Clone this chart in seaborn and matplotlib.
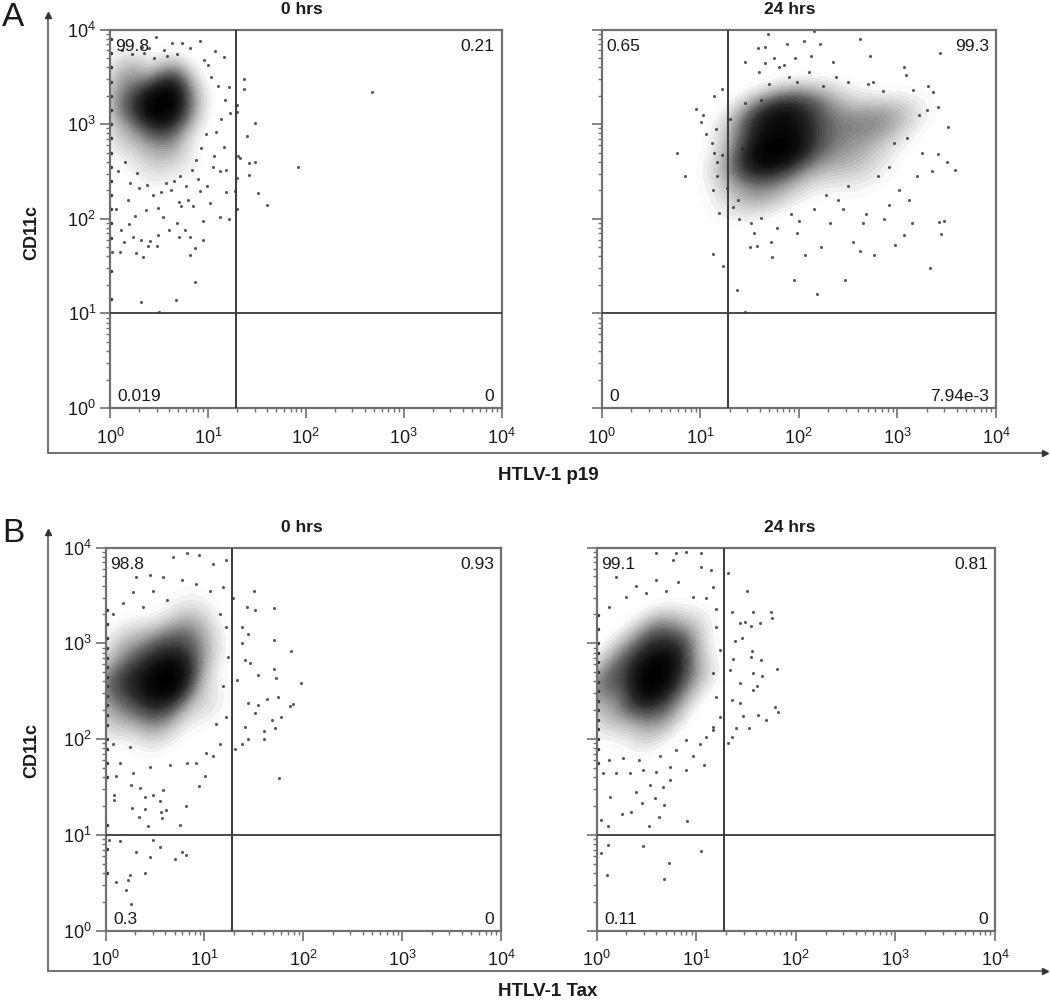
import matplotlib
matplotlib.use('Agg')
import matplotlib.pyplot as plt
from matplotlib.colors import LinearSegmentedColormap
from matplotlib.lines import Line2D
from matplotlib.ticker import LogLocator, NullFormatter
import numpy as np
import seaborn as sns

FIG_W, FIG_H = 1050, 1002

# all event values are log10 of the fluorescence
# core_* = where the cloud is solid black, w = how dark; dots_* = single events
a0_core_x = [0.58, 0.45, 0.65, 0.30, 0.10, 0.10, 0.55, 0.35, 0.75, 0.60, 0.35, 0.10, 0.25, 0.80, 0.85, 0.50]
a0_core_y = [3.25, 3.20, 3.45, 3.20, 3.20, 3.50, 3.00, 2.90, 3.10, 2.75, 2.60, 2.85, 3.55, 2.60, 3.30, 2.45]
a0_core_w = [10, 8, 7, 6, 4, 2, 5, 3, 4, 3, 1.5, 2, 3, 1, 2, 1]
a0_dots_x = [2.68, 1.92, 1.37, 1.37, 1.30, 1.30, 1.48, 1.40, 1.31, 1.33, 1.42, 1.48, 1.42, 1.51, 1.60, 1.30, 1.30, 1.28,
             0.87, 0.32, 0.67, 0.50, 0.87, 0.82, 0.34, 0.27, 0.10, 0.02, 0.95, 0.82, 0.71, 0.77, 0.60, 0.49, 0.39, 0.48,
             0.41, 0.32, 0.24, 0.14, 0.11, 0.19, 0.26, 0.37, 0.49, 0.54, 0.68, 0.95, 1.12, 1.22, 0.73, 0.85, 1.02, 0.92,
             1.19, 1.12, 1.19, 1.06, 1.16, 0.47, 0.63, 0.74, 0.92, 1.07, 1.16, 1.22, 1.17, 1.23, 0.40, 0.55, 0.68, 0.82,
             0.96, 1.03, 1.10, 1.13, 0.98, 1.05, 0.90, 0.78, 0.62, 0.44, 0.30, 0.18, 0.08, 0.12, 0.22, 0.33, 0.45, 0.58,
             0.72, 0.88, 1.00, 0.93, 0.80, 0.65, 0.38, 0.20, 0.06, 0.15, 0.28, 0.52, 0.70, 0.84, 0.99, 1.08, 0.35, 0.57]
a0_dots_y = [3.34, 2.55, 3.48, 3.37, 3.20, 3.13, 3.01, 2.87, 2.66, 2.64, 2.59, 2.60, 2.46, 2.27, 2.15, 2.43, 2.10, 2.29,
             1.33, 1.12, 1.14, 1.01, 1.69, 1.62, 1.60, 1.64, 1.65, 1.65, 1.78, 1.81, 1.81, 1.88, 1.88, 1.83, 1.71, 1.71,
             1.77, 1.78, 1.81, 1.75, 1.88, 1.94, 2.03, 2.09, 2.11, 2.02, 1.96, 1.98, 2.02, 2.00, 2.13, 2.13, 2.17, 2.29,
             2.28, 2.50, 2.52, 2.66, 2.76, 3.92, 3.86, 3.86, 3.88, 3.77, 3.71, 3.39, 3.26, 3.12, 3.80, 3.78, 3.74, 3.80,
             3.68, 3.50, 3.40, 3.05, 2.90, 2.55, 2.42, 2.35, 2.30, 2.25, 2.32, 2.20, 2.50, 3.78, 3.74, 3.82, 3.70, 3.72,
             2.45, 2.62, 3.62, 2.75, 2.20, 2.40, 2.36, 2.38, 2.10, 2.60, 2.48, 2.28, 2.18, 2.52, 2.35, 2.92, 3.75, 2.38]

a1_core_x = [1.77, 1.77, 1.67, 2.45, 2.79, 2.96, 1.60, 2.28, 2.62, 1.47, 1.47, 2.01, 1.94, 2.20, 1.60, 2.60, 1.85]
a1_core_y = [3.12, 2.73, 2.62, 3.01, 3.01, 3.08, 2.24, 2.66, 2.66, 2.55, 2.20, 3.12, 2.83, 3.20, 2.95, 2.40, 2.40]
a1_core_w = [12, 10, 9, 4, 4, 2.5, 3, 3.5, 3, 3, 1.5, 4, 7, 2.5, 5, 1.5, 2.5]
a1_dots_x = [0.77, 0.85, 0.96, 1.01, 1.03, 1.06, 1.12, 1.14, 1.17, 1.17, 1.13, 1.22, 1.16, 1.14, 1.22, 1.19, 1.13,
             1.23, 1.37, 1.45, 1.62, 1.58, 1.95, 2.18, 2.47, 2.62, 2.76, 2.98, 3.07, 3.15, 3.33, 3.44, 3.42, 3.47,
             3.50, 3.41, 3.35, 3.58, 3.41, 3.36, 3.16, 3.31, 3.09, 3.07, 3.43, 3.51, 2.97, 2.72, 2.62, 2.22, 2.15,
             1.88, 1.66, 1.69, 1.59, 1.66, 1.46, 1.27, 1.33, 1.39, 1.51, 1.73, 2.06, 2.23, 2.55, 2.65, 2.86, 3.12,
             1.60, 1.70, 1.75, 1.85, 1.90, 1.98, 2.10, 2.12, 2.25, 2.38, 2.50, 2.70, 2.85, 1.45, 1.55, 1.78, 1.98,
             2.32, 2.45, 2.68, 2.92, 3.02, 3.20, 3.25, 1.30, 1.38, 1.52, 1.72, 2.00, 2.28, 2.50, 2.80, 1.62, 1.80,
             2.15, 2.40, 2.92, 3.10, 3.22, 1.92, 2.05, 2.35, 2.75, 3.30, 1.42, 1.96]
a1_dots_y = [2.70, 2.45, 3.16, 3.02, 3.10, 2.90, 2.80, 2.70, 2.60, 2.45, 2.30, 2.67, 2.95, 3.30, 3.37, 2.06, 1.63,
             1.50, 1.25, 1.01, 2.01, 1.71, 1.35, 1.20, 1.35, 1.66, 1.62, 1.72, 1.83, 1.96, 1.48, 1.84, 1.97, 1.98,
             2.60, 2.68, 2.50, 2.52, 3.18, 3.34, 3.36, 3.40, 3.52, 3.60, 3.75, 2.97, 2.80, 3.72, 3.90, 3.85, 3.98,
             3.85, 3.82, 3.95, 3.80, 3.65, 3.66, 2.33, 2.12, 2.00, 1.70, 1.60, 1.62, 1.70, 1.75, 1.95, 2.00, 2.20,
             3.55, 3.42, 3.70, 3.62, 3.50, 3.45, 3.55, 3.72, 3.40, 3.50, 3.45, 3.42, 3.35, 3.22, 1.85, 1.90, 1.85,
             1.95, 2.10, 2.05, 2.15, 2.30, 2.45, 2.70, 3.05, 2.20, 1.95, 1.75, 1.98, 2.25, 2.35, 2.45, 3.25, 3.60,
             2.10, 2.20, 2.55, 2.85, 3.10, 2.05, 3.88, 3.66, 3.45, 3.15, 2.75, 3.70]

b0_core_x = [0.65, 0.52, 0.28, 0.04, 0.82, 0.52, 0.95, 0.21, 0.55, 1.02, 0.82, 0.11, 0.70, 0.40]
b0_core_y = [2.69, 2.30, 2.65, 2.58, 3.10, 2.93, 2.89, 3.00, 2.09, 2.37, 3.42, 2.23, 2.55, 2.50]
b0_core_w = [11, 5, 6, 5, 5, 6, 3, 3, 2, 2, 1, 3, 8, 6]
b0_dots_x = [1.50, 1.70, 1.43, 1.51, 1.29, 1.70, 1.88, 1.38, 1.44, 1.38, 1.41, 1.46, 1.70, 1.54, 1.72, 1.98, 1.33, 1.63,
             1.74, 1.44, 1.54, 1.90, 1.87, 1.51, 1.68, 1.78, 1.41, 1.71, 1.60, 1.44, 1.60, 1.38, 1.31, 1.75,
             0.09, 0.09, 0.27, 0.34, 0.40, 0.43, 0.55, 0.56, 0.57, 0.61, 0.81, 0.75, 0.48, 0.40, 0.35, 0.58, 0.95, 1.01, 0.26, 0.11,
             0.04, 0.15, 0.48, 0.31, 0.55, 0.45, 0.70, 0.77, 0.81, 0.25, 0.40, 0.23, 0.11, 0.21, 0.26,
             0.15, 0.28, 0.45, 0.65, 0.82, 1.02, 1.09, 1.16, 0.08, 0.25, 0.92,
             0.31, 0.45, 0.58, 0.68, 0.82, 0.95, 1.09, 1.22, 0.77, 0.92, 1.06, 1.19, 0.48, 0.28, 0.18, 0.08, 0.38, 0.62,
             1.16, 1.22, 1.24, 1.19, 1.22, 1.12]
b0_dots_y = [3.55, 3.37, 3.38, 3.35, 3.47, 3.03, 2.92, 3.17, 3.10, 3.00, 2.82, 2.79, 2.73, 2.67, 2.64, 2.59, 2.62, 2.42,
             2.44, 2.38, 2.35, 2.37, 2.34, 2.27, 2.20, 2.23, 2.13, 2.11, 2.08, 2.00, 2.00, 1.95, 1.90, 1.59,
             1.42, 1.36, 1.28, 1.19, 1.27, 1.09, 1.35, 1.24, 1.17, 1.26, 1.30, 1.10, 1.42, 1.39, 1.49, 1.47, 1.51, 1.61, 1.52, 1.61,
             0.95, 0.93, 0.95, 0.82, 0.87, 0.77, 0.75, 0.82, 0.79, 0.58, 0.60, 0.53, 0.51, 0.42, 0.28,
             1.75, 1.64, 1.71, 1.73, 1.75, 1.85, 1.82, 1.95, 1.95, 1.92, 1.75,
             3.69, 3.71, 3.69, 3.90, 3.94, 3.92, 3.83, 3.87, 3.66, 3.62, 3.55, 3.59, 3.55, 3.54, 3.42, 3.31, 3.38, 3.45,
             3.31, 3.17, 2.86, 2.55, 2.23, 2.16]

b1_core_x = [0.60, 0.77, 0.44, 0.60, 0.20, 0.02, 0.90, 0.50, 0.97, 0.13, 1.10, 0.50, 0.70, 0.30]
b1_core_y = [2.58, 2.89, 2.41, 3.10, 2.65, 2.55, 2.65, 2.06, 3.17, 2.23, 2.65, 2.75, 2.30, 2.90]
b1_core_w = [12, 10, 7, 7, 4, 5, 5, 2.5, 2, 3, 1, 10, 5, 4]
b1_dots_x = [1.51, 1.57, 1.75, 1.76, 1.36, 1.32, 1.49, 1.55, 1.64, 1.44, 1.46, 1.39, 1.37, 1.56, 1.55, 1.65, 1.81, 1.34,
             1.57, 1.66, 1.44, 1.61, 1.57, 1.36, 1.44, 1.79, 1.82, 1.47, 1.62, 1.70, 1.40, 1.53, 1.36, 1.32,
             0.05, 0.12, 0.53, 0.63, 0.91, 0.26, 0.35, 0.46, 0.68, 0.14, 0.40, 0.54, 0.59, 0.67, 0.74, 1.08,
             0.12, 0.47, 1.05, 0.05, 0.73, 0.11, 0.68,
             0.07, 0.20, 0.34, 0.47, 0.60, 0.74, 0.90, 0.97, 0.13, 0.27, 0.43, 0.64, 0.80, 1.10, 1.17, 1.04, 0.90,
             0.60, 0.80, 0.90, 1.05, 0.77, 1.05, 1.15, 0.60, 0.40, 0.20, 0.82, 1.17, 0.13, 0.30, 0.50, 0.70, 0.97, 1.10, 1.20,
             1.20, 1.24, 1.17, 1.20, 1.24, 1.17]
b1_dots_y = [3.55, 3.33, 3.33, 3.26, 3.33, 3.73, 3.22, 3.18, 3.21, 3.21, 3.06, 3.02, 2.84, 2.92, 2.86, 2.82, 2.73, 2.72,
             2.69, 2.66, 2.58, 2.55, 2.51, 2.41, 2.38, 2.33, 2.28, 2.24, 2.25, 2.20, 2.11, 2.11, 2.02, 1.96,
             1.15, 1.09, 1.09, 1.19, 1.14, 1.22, 1.24, 1.33, 1.31, 1.39, 1.45, 1.52, 1.38, 1.50, 1.57, 1.73,
             0.89, 0.88, 0.83, 0.81, 0.71, 0.58, 0.54,
             1.64, 1.64, 1.64, 1.68, 1.66, 1.71, 1.68, 1.82, 1.78, 1.80, 1.78, 1.82, 1.89, 2.02, 2.13, 1.95, 1.99,
             3.94, 3.94, 3.95, 3.94, 3.87, 3.80, 3.76, 3.66, 3.60, 3.69, 3.64, 3.59, 3.38, 3.48, 3.52, 3.55, 3.48, 3.47, 3.36,
             3.17, 2.93, 2.69, 2.44, 2.23, 2.09]

# events piled up on the left edge of the plot
edge_y = [[1.15, 1.45, 1.8, 1.95, 2.1, 2.25, 2.4, 2.55, 2.7, 2.85, 3.0, 3.15, 3.3, 3.45, 3.6, 3.75, 3.9],
          [],
          [0.6, 0.85, 1.1, 1.6, 1.75, 1.9, 2.0, 2.15, 2.25, 2.35, 2.45, 2.55, 2.65, 2.75, 2.85, 2.95, 3.05, 3.2, 3.35],
          [1.75, 1.9, 2.0, 2.1, 2.2, 2.3, 2.4, 2.5, 2.6, 2.7, 2.8, 2.9, 3.0, 3.15, 3.3]]

# frame position in pixels: left, right, top, bottom
panel_boxes = [(110, 501.5, 29.5, 408), (601.5, 996, 29.5, 408), (105.5, 501, 547.5, 930.5), (596.5, 995, 547.5, 930.5)]
panel_titles = ['0 hrs', '24 hrs', '0 hrs', '24 hrs']
title_x = [302, 790, 302, 790]
title_y = [10, 10, 527, 527]
quad_labels = [('99.8', '0.21', '0.019', '0'), ('0.65', '99.3', '0', '7.94e-3'),
               ('98.8', '0.93', '0.3', '0'), ('99.1', '0.81', '0.11', '0')]
panel_data = [(a0_core_x, a0_core_y, a0_core_w, a0_dots_x, a0_dots_y),
              (a1_core_x, a1_core_y, a1_core_w, a1_dots_x, a1_dots_y),
              (b0_core_x, b0_core_y, b0_core_w, b0_dots_x, b0_dots_y),
              (b1_core_x, b1_core_y, b1_core_w, b1_dots_x, b1_dots_y)]

sns.set_theme(style='ticks')
plt.rcParams['font.family'] = ['Liberation Sans', 'DejaVu Sans']
plt.rcParams['mathtext.default'] = 'regular'

FRAME = '#707070'
GATE = '#3a3a3a'
INK = '#1a1a1a'
cloud_cmap = LinearSegmentedColormap.from_list('cloud', ['#ffffff', '#b4b4b4', '#646464', '#2c2c2c', '#0e0e0e', '#000000'])

fig = plt.figure(figsize=(FIG_W / 100, FIG_H / 100), dpi=100, facecolor='white')


def fig_text(x, y, s, **kw):
    fig.text(x / FIG_W, 1 - y / FIG_H, s, color=INK, va='center', ha=kw.pop('ha', 'center'), **kw)


for i, (box, data) in enumerate(zip(panel_boxes, panel_data)):
    left, right, top, bottom = box
    ax = fig.add_axes([left / FIG_W, 1 - bottom / FIG_H, (right - left) / FIG_W, (bottom - top) / FIG_H])
    core_x, core_y, core_w, dots_x, dots_y = data
    sns.kdeplot(x=10 ** np.array(core_x), y=10 ** np.array(core_y), weights=core_w, log_scale=True,
                fill=True, cmap=cloud_cmap, levels=40, thresh=0.03, bw_adjust=1.0, gridsize=150, ax=ax, zorder=1)
    sns.scatterplot(x=10 ** np.array(dots_x), y=10 ** np.array(dots_y), s=5, color='#222222',
                    linewidth=0, alpha=0.75, ax=ax, zorder=2)
    if edge_y[i]:
        sns.scatterplot(x=np.ones(len(edge_y[i])) * 1.03, y=10 ** np.array(edge_y[i]), s=6, color='#333333',
                        linewidth=0, ax=ax, zorder=2)

    ax.set_xlim(1, 1e4)
    ax.set_ylim(1, 1e4)
    ax.axhline(10, color=GATE, lw=1.3, zorder=3)
    ax.axvline(19.2, color=GATE, lw=1.4, zorder=3)

    for axis in (ax.xaxis, ax.yaxis):
        axis.set_major_locator(LogLocator(base=10, numticks=6))
        axis.set_minor_locator(LogLocator(base=10, subs=range(2, 10), numticks=6))
        axis.set_minor_formatter(NullFormatter())
    ax.tick_params(which='major', length=7, width=1.2, color=FRAME, labelsize=13, labelcolor=INK)
    ax.tick_params(which='minor', length=3.2, width=1, color=FRAME)
    ax.tick_params(axis='x', which='major', pad=7)
    ax.tick_params(axis='y', which='major', pad=3, labelleft=i % 2 == 0)
    for spine in ax.spines.values():
        spine.set_color(FRAME)
        spine.set_linewidth(1.6)

    tl, tr, bl, br = quad_labels[i]
    ax.text(0.012, 0.955, tl, transform=ax.transAxes, fontsize=12.5, color=INK, va='center', zorder=5)
    ax.text(0.982, 0.955, tr, transform=ax.transAxes, fontsize=12.5, color=INK, va='center', ha='right', zorder=5)
    ax.text(0.02, 0.03, bl, transform=ax.transAxes, fontsize=12.5, color=INK, va='center', zorder=5)
    ax.text(0.982, 0.03, br, transform=ax.transAxes, fontsize=12.5, color=INK, va='center', ha='right', zorder=5,
            bbox=dict(facecolor='white', edgecolor='none', pad=1.5))

    fig_text(title_x[i], title_y[i], panel_titles[i], fontsize=12.5, fontweight='bold')

# outer L shaped axes with arrow heads
for top_y, corner_y in [(13, 453), (530, 971)]:
    fig.add_artist(Line2D([48 / FIG_W, 48 / FIG_W], [1 - corner_y / FIG_H, 1 - (top_y + 4) / FIG_H], color=FRAME, lw=1.4))
    fig.add_artist(Line2D([48 / FIG_W, 1045 / FIG_W], [1 - corner_y / FIG_H, 1 - corner_y / FIG_H], color=FRAME, lw=1.4))
    fig.add_artist(Line2D([48 / FIG_W], [1 - (top_y + 2) / FIG_H], marker='^', ms=4, color='#333333', lw=0))
    fig.add_artist(Line2D([1045 / FIG_W], [1 - corner_y / FIG_H], marker='>', ms=4, color='#333333', lw=0))

fig_text(32, 232, 'CD11c', fontsize=13, fontweight='bold', rotation=90)
fig_text(32, 750, 'CD11c', fontsize=13, fontweight='bold', rotation=90)
fig_text(548, 476, 'HTLV-1 p19', fontsize=13.5, fontweight='bold')
fig_text(548, 992, 'HTLV-1 Tax', fontsize=13.5, fontweight='bold')
fig_text(2, 17, 'A', fontsize=24, ha='left')
fig_text(2, 533, 'B', fontsize=24, ha='left')

fig.savefig('out.png', dpi=100)
